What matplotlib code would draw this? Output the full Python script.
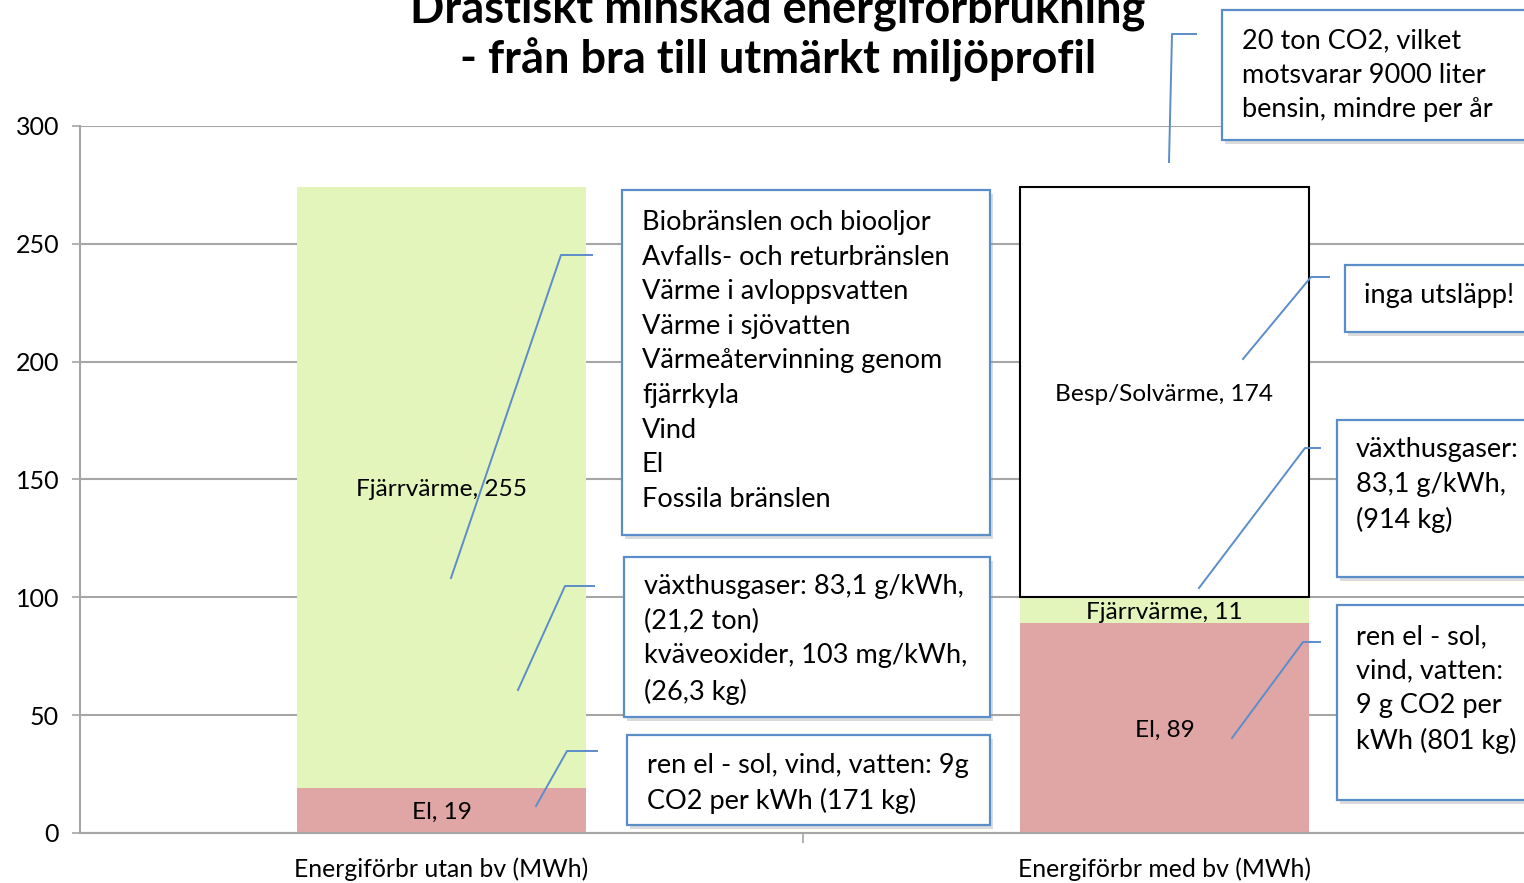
import matplotlib
matplotlib.use("Agg")
import matplotlib.pyplot as plt
from matplotlib.patches import Rectangle
from matplotlib.lines import Line2D

# data
categories = ["Energiförbr utan bv (MWh)", "Energiförbr med bv (MWh)"]
el = [19, 89]
fjarrvarme = [255, 11]
besp_sol = [0, 174]

W, H = 1524, 883
plt.rcParams['font.family'] = ['Lato', 'DejaVu Sans']

fig = plt.figure(figsize=(W / 100, H / 100), dpi=100)
ax = fig.add_axes([80 / W, 50 / H, 1446 / W, 707 / H])

x = [0, 1]
bw = 0.40
pink = "#E0A6A6"
green = "#E4F5BC"

ax.bar(x, el, bw, color=pink, zorder=2)
ax.bar(x, fjarrvarme, bw, bottom=el, color=green, zorder=2)
bot2 = [a + b for a, b in zip(el, fjarrvarme)]
ax.bar(x[1], besp_sol[1], bw, bottom=bot2[1], facecolor="white",
       edgecolor="black", linewidth=1.5, zorder=3)

# segment labels
lab_fs = 17.6
for i in x:
    ax.text(i, el[i] / 2, f"El, {el[i]}", ha="center", va="center_baseline",
            fontsize=lab_fs, zorder=5)
    ax.text(i, el[i] + fjarrvarme[i] / 2, f"Fjärrvärme, {fjarrvarme[i]}",
            ha="center", va="center_baseline", fontsize=lab_fs, zorder=5)
ax.text(1, bot2[1] + besp_sol[1] / 2, f"Besp/Solvärme, {besp_sol[1]}",
        ha="center", va="center_baseline", fontsize=lab_fs, zorder=5)

ax.set_xlim(-0.5, 1.5)
ax.set_ylim(0, 300)
ax.set_yticks(range(0, 301, 50))
ax.yaxis.grid(True, color="#A6A6A6", linewidth=1.5, zorder=0)
ax.set_axisbelow(True)
ax.set_xticks([0.5])
ax.set_xticklabels([""])
ax.tick_params(axis="x", length=7, color="#A6A6A6", width=1.2)
ax.tick_params(axis="y", length=6, color="#A6A6A6", width=1.2, labelsize=18, pad=9)
for s in ["top", "right"]:
    ax.spines[s].set_visible(False)
for s in ["left", "bottom"]:
    ax.spines[s].set_color("#A6A6A6")
    ax.spines[s].set_linewidth(1.5)
for i, c in enumerate(categories):
    ax.text(i, -36 / 707, c, transform=ax.get_xaxis_transform(), ha="center",
            va="center", fontsize=17.8)

# title (cut off at the top, as in the original)
fig.text(778 / W, 1 - 10 / H, "Drastiskt minskad energiförbrukning",
         ha="center", va="center", fontsize=32.5, fontweight="bold")
fig.text(778 / W, 1 - 60 / H, "- från bra till utmärkt miljöprofil",
         ha="center", va="center", fontsize=32.5, fontweight="bold")

blue = "#5B8DC9"


def box(x0, y0, x1, y1, text, tx, ty, fs=19.5, ls=1.48):
    sh = Rectangle((x0 / W + 3 / W, 1 - (y1 + 4) / H), (x1 - x0) / W, (y1 - y0) / H,
                   transform=fig.transFigure, facecolor="#999999", alpha=0.35,
                   edgecolor="none", zorder=8)
    fig.add_artist(sh)
    r = Rectangle((x0 / W, 1 - y1 / H), (x1 - x0) / W, (y1 - y0) / H,
                  transform=fig.transFigure, facecolor="white", edgecolor=blue,
                  linewidth=1.6, zorder=9)
    fig.add_artist(r)
    fig.text(tx / W, 1 - ty / H, text, ha="left", va="top", fontsize=fs,
             linespacing=ls, zorder=10)


def callout(pts):
    xs = [p[0] / W for p in pts]
    ys = [1 - p[1] / H for p in pts]
    fig.add_artist(Line2D(xs, ys, transform=fig.transFigure, color=blue,
                          linewidth=1.4, zorder=11))


box(1222, 10, 1540, 140, "20 ton CO2, vilket\nmotsvarar 9000 liter\nbensin, mindre per år",
    1242, 28)
box(622, 190, 990, 535,
    "Biobränslen och biooljor\nAvfalls- och returbränslen\nVärme i avloppsvatten\n"
    "Värme i sjövatten\nVärmeåtervinning genom\nfjärrkyla\nVind\nEl\nFossila bränslen",
    642, 210)
box(624, 557, 990, 717,
    "växthusgaser: 83,1 g/kWh,\n(21,2 ton)\nkväveoxider, 103 mg/kWh,\n(26,3 kg)",
    644, 574)
box(627, 735, 990, 825, "ren el - sol, vind, vatten: 9g\nCO2 per kWh (171 kg)", 647, 753)
box(1345, 265, 1540, 332, "inga utsläpp!", 1364, 283)
box(1337, 420, 1540, 577, "växthusgaser:\n83,1 g/kWh,\n(914 kg)", 1356, 437)
box(1337, 605, 1540, 800, "ren el - sol,\nvind, vatten:\n9 g CO2 per\nkWh (801 kg)", 1356, 624)

callout([(592, 255), (561, 255), (451, 578)])
callout([(594, 586), (565, 586), (518, 690)])
callout([(597, 751), (567, 751), (536, 806)])
callout([(1196, 34), (1172, 34), (1169, 162)])
callout([(1329, 277), (1311, 277), (1243, 359)])
callout([(1320, 448), (1305, 448), (1199, 588)])
callout([(1320, 642), (1303, 642), (1232, 738)])

fig.savefig("out.png", dpi=100)
